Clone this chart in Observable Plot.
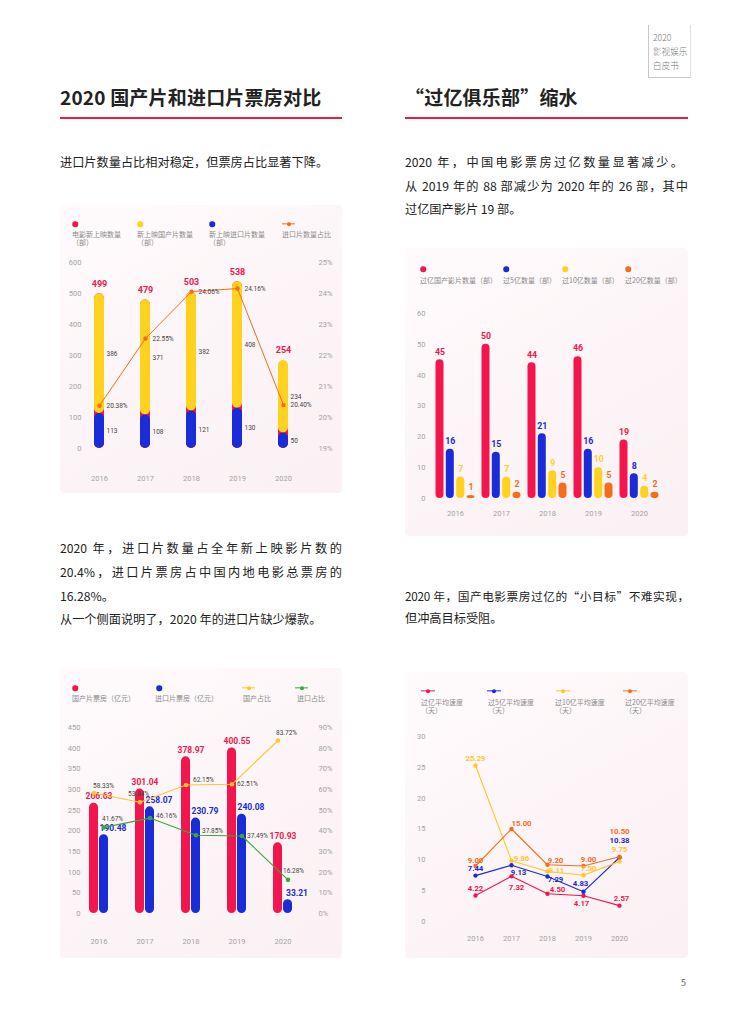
<!DOCTYPE html>
<html><head><meta charset="utf-8">
<script src="https://cdn.jsdelivr.net/npm/d3@7"></script>
<script src="https://cdn.jsdelivr.net/npm/@observablehq/plot@0.6"></script>
<style>
html,body{margin:0;padding:0;background:#fff;}
body{width:749px;height:1024px;position:relative;overflow:hidden;font-family:"Noto Sans CJK SC","Noto Sans",sans-serif;color:#222;}
.abs{position:absolute;}
.title{font-size:19px;font-weight:700;line-height:24px;white-space:nowrap;letter-spacing:0.2px;}
.rule{height:1.5px;background:#e8203a;}
.p{font-size:12.2px;line-height:23.5px;white-space:nowrap;}
.j{text-align:justify;text-align-last:justify;white-space:normal;}
.card{background:linear-gradient(150deg,#fffbfc 0%,#fcf4f6 55%,#fbf1f4 100%);border-radius:4px;}
.lg{position:absolute;font-size:7px;color:#8a8a8a;line-height:7.5px;white-space:pre;}
.dot{position:absolute;width:5.5px;height:5.5px;border-radius:50%;transform:translate(-50%,-50%);}
.lm{position:absolute;height:1.3px;transform:translateY(-50%);}
.lm i{position:absolute;left:50%;top:50%;width:4px;height:4px;border-radius:50%;transform:translate(-50%,-50%);}
.plot{position:absolute;}
.plot svg{overflow:visible;}
</style></head>
<body>
<script>
// ---------- shared ----------
const years = ["2016","2017","2018","2019","2020"];

// ---------- chart 1: 新上映影片数量 ----------
const newTotal    = [499, 479, 503, 538, 254];
const newDomestic = [386, 371, 382, 408, 234];
const newImported = [113, 108, 121, 130, 50];
const importedCountShare = [20.38, 22.55, 24.06, 24.16, 20.40];
const c1Legend = ["电影新上映数量\n（部）", "新上映国产片数量\n（部）", "新上映进口片数量\n（部）", "进口片数量占比"];
const c1LeftTicks  = [0, 100, 200, 300, 400, 500, 600];
const c1RightTicks = [19, 20, 21, 22, 23, 24, 25];

// ---------- chart 2: 过亿俱乐部 ----------
const over100m = [45, 50, 44, 46, 19];
const over500m = [16, 15, 21, 16, 8];
const over1b   = [7, 7, 9, 10, 4];
const over2b   = [1, 2, 5, 5, 2];
const c2Legend = ["过亿国产影片数量（部）", "过5亿数量（部）", "过10亿数量（部）", "过20亿数量（部）"];
const c2Ticks  = [0, 10, 20, 30, 40, 50, 60];

// ---------- chart 3: 票房对比 ----------
const domBox   = [266.63, 301.04, 378.97, 400.55, 170.93];
const impBox   = [190.48, 258.07, 230.79, 240.08, 33.21];
const domShare = [58.33, 53.84, 62.15, 62.51, 83.72];
const impShare = [41.67, 46.16, 37.85, 37.49, 16.28];
const c3Legend = ["国产片票房（亿元）", "进口片票房（亿元）", "国产占比", "进口占比"];
const c3LeftTicks  = [0, 50, 100, 150, 200, 250, 300, 350, 400, 450];
const c3RightTicks = [0, 10, 20, 30, 40, 50, 60, 70, 80, 90];

// ---------- chart 4: 过亿速度 ----------
const days100m = [4.22, 7.32, 4.50, 4.17, 2.57];
const days500m = [7.44, 9.13, 7.29, 4.83, 10.38];
const days1b   = [25.29, 9.86, 8.11, 7.50, 9.75];
const days2b   = [9.00, 15.00, 9.20, 9.00, 10.50];
const c4Legend = ["过亿平均速度\n（天）", "过5亿平均速度\n（天）", "过10亿平均速度\n（天）", "过20亿平均速度\n（天）"];
const c4Ticks  = [0, 5, 10, 15, 20, 25, 30];

// ---------- colours ----------
const RED = "#f2164c", BLUE = "#1a2bd8", YEL = "#ffd21f", ORG = "#f36d1d", GRN = "#3aa93c", YEL2 = "#ffc62e";

// ---------- helpers ----------
function el(tag, cls, css, html) {
  const e = document.createElement(tag);
  if (cls) e.className = cls;
  Object.assign(e.style, css || {});
  if (html != null) e.textContent = html;
  document.body.appendChild(e);
  return e;
}
function legendItem(text, textX, textTop, color, markerX, markerY, type, lineW) {
  el("div", "lg", {left: textX + "px", top: textTop + "px"}, text);
  if (type === "dot") {
    el("div", "dot", {left: markerX + "px", top: markerY + "px", background: color});
  } else {
    const m = el("div", "lm", {left: markerX + "px", top: markerY + "px", width: lineW + "px", background: color});
    const i = document.createElement("i"); i.style.background = color; m.appendChild(i);
  }
}
function place(svg, left, top) {
  const d = el("div", "plot", {left: left + "px", top: top + "px"});
  d.appendChild(svg);
}
const axisStyle = {fontSize: "7.5px", fontFamily: "Roboto, 'Noto Sans', sans-serif", color: "#a3a3a3", background: "transparent", overflow: "visible"};
const fmt2 = d3.format(".2f");

// ---------- static page text ----------
el("div", "abs", {left: "648px", top: "25px", width: "41px", height: "52px", borderLeft: "1px solid #c8c8c8", borderRight: "1px solid #e0e0e0", borderBottom: "1px solid #c8c8c8"});
el("div", "abs", {left: "653px", top: "30px", fontSize: "8.6px", lineHeight: "14px", color: "#777", fontWeight: "300", whiteSpace: "pre"}, "2020\n影视娱乐\n白皮书");

el("div", "abs title", {left: "60px", top: "85px"}, "2020 国产片和进口片票房对比");
el("div", "abs rule", {left: "60px", top: "117px", width: "282px"});
el("div", "abs title", {left: "405px", top: "85px"}, "“过亿俱乐部”缩水");
el("div", "abs rule", {left: "405px", top: "117px", width: "283px"});

el("div", "abs p", {left: "60px", top: "151px"}, "进口片数量占比相对稳定，但票房占比显著下降。");
el("div", "abs p j", {left: "405px", top: "151px", width: "278px"}, "2020 年，中国电影票房过亿数量显著减少。");
el("div", "abs p j", {left: "405px", top: "174.5px", width: "283px"}, "从 2019 年的 88 部减少为 2020 年的 26 部，其中");
el("div", "abs p", {left: "405px", top: "198px"}, "过亿国产影片 19 部。");

el("div", "abs p j", {left: "60px", top: "537px", width: "282px"}, "2020 年，进口片数量占全年新上映影片数的");
el("div", "abs p j", {left: "60px", top: "561px", width: "282px"}, "20.4%，进口片票房占中国内地电影总票房的");
el("div", "abs p", {left: "60px", top: "585px"}, "16.28%。");
el("div", "abs p", {left: "60px", top: "608px"}, "从一个侧面说明了，2020 年的进口片缺少爆款。");

el("div", "abs p j", {left: "405px", top: "584px", width: "284px", fontSize: "11.7px", letterSpacing: "-0.2px"}, "2020 年，国产电影票房过亿的“小目标”不难实现，");
el("div", "abs p", {left: "405px", top: "607px"}, "但冲高目标受阻。");

el("div", "abs", {left: "681px", top: "976px", fontSize: "9px", color: "#555"}, "5");

// ---------- cards ----------
el("div", "abs card", {left: "60px", top: "205px", width: "282px", height: "288px"});
el("div", "abs card", {left: "405px", top: "248px", width: "283px", height: "288px"});
el("div", "abs card", {left: "60px", top: "668px", width: "282px", height: "290px"});
el("div", "abs card", {left: "405px", top: "672px", width: "283px", height: "286px"});

// ---------- chart 1 ----------
{
  const c1 = years.map((y, i) => ({year: y, total: newTotal[i], dom: newDomestic[i], imp: newImported[i], share: importedCountShare[i]}));
  const s = v => (v - 19) / 6 * 600;
  const svg = Plot.plot({
    width: 282, height: 238, marginTop: 10, marginBottom: 42, marginLeft: 24, marginRight: 27,
    style: axisStyle,
    x: {type: "band", domain: years, range: [33, 228], paddingInner: 0.7838, paddingOuter: 0, align: 0.5},
    y: {domain: [0, 600]},
    marks: [
      Plot.axisY({anchor: "left", ticks: c1LeftTicks, tickSize: 0, tickPadding: 3, label: null}),
      Plot.axisY({anchor: "right", ticks: c1RightTicks.map(s), tickFormat: d => Math.round(d / 100 + 19) + "%", tickSize: 0, tickPadding: 3, label: null}),
      Plot.axisX({anchor: "bottom", tickSize: 0, tickPadding: 27, label: null}),
      Plot.barY(c1, {x: "year", y1: 0, y2: "total", fill: RED, rx: 5}),
      Plot.barY(c1, {x: "year", y1: "imp", y2: d => d.imp + d.dom, fill: YEL, rx: 5}),
      Plot.barY(c1, {x: "year", y1: 0, y2: "imp", fill: BLUE, rx: 5}),
      Plot.text(c1, {x: "year", y: d => d.imp + d.dom, text: d => String(d.total), dy: -10, fill: RED, fontWeight: "bold", fontSize: 9}),
      Plot.text(c1, {x: "year", y: d => d.imp + d.dom / 2, text: d => String(d.dom), dx: 7, textAnchor: "start", fill: "#444", fontSize: 6.5}),
      Plot.text(c1, {x: "year", y: d => d.imp / 2, text: d => String(d.imp), dx: 7, textAnchor: "start", fill: "#444", fontSize: 6.5}),
      Plot.line(c1, {x: "year", y: d => s(d.share), stroke: ORG, strokeWidth: 1}),
      Plot.dot(c1, {x: "year", y: d => s(d.share), r: 2.2, fill: ORG}),
      Plot.text(c1, {x: "year", y: d => s(d.share), text: d => fmt2(d.share) + "%", dx: 7, textAnchor: "start", fill: "#444", fontSize: 6.5})
    ]
  });
  place(svg, 60, 252);
  const tx = [72, 137, 209, 282], mx = [75, 140, 212, 282];
  const cols = [RED, YEL, BLUE, ORG];
  c1Legend.forEach((t, i) => legendItem(t, tx[i], 231, cols[i], mx[i], 224, i < 3 ? "dot" : "line", 13));
}

// ---------- chart 2 ----------
{
  const series = [
    {vals: over100m, color: RED, dx: -15.5},
    {vals: over500m, color: BLUE, dx: -5.2},
    {vals: over1b, color: YEL, dx: 5.2},
    {vals: over2b, color: ORG, dx: 15.5}
  ];
  const marks = [
    Plot.axisY({anchor: "left", ticks: c2Ticks, tickSize: 0, tickPadding: 3, label: null}),
    Plot.axisX({anchor: "bottom", tickSize: 0, tickPadding: 12, label: null})
  ];
  series.forEach(sr => {
    const data = years.map((y, i) => ({year: y, v: sr.vals[i]}));
    marks.push(Plot.barY(data, {x: "year", y1: 0, y2: "v", fill: sr.color, rx: 4, dx: sr.dx}));
    marks.push(Plot.text(data, {x: "year", y: "v", text: d => String(d.v), dx: sr.dx, dy: -8, fill: sr.color, fontWeight: "bold", fontSize: 8.8}));
  });
  const svg = Plot.plot({
    width: 283, height: 235, marginTop: 18, marginBottom: 32, marginLeft: 23, marginRight: 10,
    style: axisStyle,
    x: {type: "band", domain: years, range: [45, 238], paddingInner: 0.827, paddingOuter: 0, align: 0.5},
    y: {domain: [0, 60]},
    marks
  });
  place(svg, 405, 295);
  const tx = [420, 503, 562, 625], mx = [423, 506, 565, 628];
  const cols = [RED, BLUE, YEL, ORG];
  c2Legend.forEach((t, i) => legendItem(t, tx[i], 277, cols[i], mx[i], 269, "dot"));
}

// ---------- chart 3 ----------
{
  const c3 = years.map((y, i) => ({year: y, dom: domBox[i], imp: impBox[i], ds: domShare[i], is: impShare[i]}));
  const s = v => v * 5;
  // label offsets (px) for the share labels, relative to each point
  const domOff = [[-1,-7],[-12,-8],[7,-5],[5,0],[-2,-8]];
  const impOff = [[-2,-8],[6,-2],[6,-4],[5,0],[-5,-9]];
  const marks = [
    Plot.axisY({anchor: "left", ticks: c3LeftTicks, tickSize: 0, tickPadding: 3, label: null}),
    Plot.axisY({anchor: "right", ticks: c3RightTicks.map(s), tickFormat: d => Math.round(d / 5) + "%", tickSize: 0, tickPadding: 3, label: null}),
    Plot.axisX({anchor: "bottom", tickSize: 0, tickPadding: 25, label: null}),
    Plot.barY(c3, {x: "year", y1: 0, y2: "dom", fill: RED, rx: 4.5, dx: -5}),
    Plot.barY(c3, {x: "year", y1: 0, y2: "imp", fill: BLUE, rx: 4.5, dx: 5}),
    Plot.text(c3, {x: "year", y: "dom", text: d => fmt2(d.dom), dy: -7, fill: RED, fontWeight: "bold", fontSize: 8.5}),
    Plot.text(c3, {x: "year", y: "imp", text: d => fmt2(d.imp), dx: 14, dy: -7, fill: BLUE, fontWeight: "bold", fontSize: 8.5}),
    Plot.line(c3, {x: "year", y: d => s(d.ds), stroke: YEL2, strokeWidth: 1.1, dx: -5}),
    Plot.dot(c3, {x: "year", y: d => s(d.ds), r: 2.3, fill: YEL2, dx: -5}),
    Plot.line(c3, {x: "year", y: d => s(d.is), stroke: GRN, strokeWidth: 1.1, dx: 5}),
    Plot.dot(c3, {x: "year", y: d => s(d.is), r: 2.3, fill: GRN, dx: 5})
  ];
  c3.forEach((d, i) => {
    marks.push(Plot.text([d], {x: "year", y: e => s(e.ds), text: e => fmt2(e.ds) + "%", dx: -5 + domOff[i][0], dy: domOff[i][1], textAnchor: "start", fill: "#444", fontSize: 6.5}));
    marks.push(Plot.text([d], {x: "year", y: e => s(e.is), text: e => fmt2(e.is) + "%", dx: 5 + impOff[i][0], dy: impOff[i][1], textAnchor: "start", fill: "#444", fontSize: 6.5}));
  });
  const svg = Plot.plot({
    width: 282, height: 246, marginTop: 15, marginBottom: 45, marginLeft: 23, marginRight: 27,
    style: axisStyle,
    x: {type: "band", domain: years, range: [33.5, 227.5], paddingInner: 0.806, paddingOuter: 0, align: 0.5},
    y: {domain: [0, 450]},
    marks
  });
  place(svg, 60, 712);
  const tx = [72, 155, 243, 297], mx = [75, 159, 242, 295];
  const cols = [RED, BLUE, YEL2, GRN];
  c3Legend.forEach((t, i) => legendItem(t, tx[i], 695, cols[i], mx[i], 688, i < 2 ? "dot" : "line", 13));
}

// ---------- chart 4 ----------
{
  const series = [
    {vals: days100m, color: RED,  off: [[0,-7],[5,11],[10,-4],[-2,8],[2,-7]]},
    {vals: days500m, color: BLUE, off: [[0,-7],[7,7],[8,3],[-3,-8],[0,-17]]},
    {vals: days1b,   color: YEL2, off: [[0,-7],[10,-2],[9,-1],[5,-7],[0,-12]]},
    {vals: days2b,   color: ORG,  off: [[0,-6],[10,-6],[8,-4],[5,-7],[0,-25]]}
  ];
  const marks = [
    Plot.axisY({anchor: "left", ticks: c4Ticks, tickSize: 0, tickPadding: 3, label: null}),
    Plot.axisX({anchor: "bottom", tickSize: 0, tickPadding: 14, label: null})
  ];
  series.forEach(sr => {
    const data = years.map((y, i) => ({year: y, v: sr.vals[i]}));
    marks.push(Plot.line(data, {x: "year", y: "v", stroke: sr.color, strokeWidth: 1.1}));
    marks.push(Plot.dot(data, {x: "year", y: "v", r: 2.2, fill: sr.color}));
  });
  series.forEach(sr => {
    years.forEach((y, i) => {
      marks.push(Plot.text([{year: y, v: sr.vals[i]}], {x: "year", y: "v", text: d => fmt2(d.v), dx: sr.off[i][0], dy: sr.off[i][1], fill: sr.color, fontWeight: "bold", fontSize: 7.8}));
    });
  });
  const svg = Plot.plot({
    width: 283, height: 234, marginTop: 14, marginBottom: 35, marginLeft: 23, marginRight: 10,
    style: axisStyle,
    x: {type: "point", domain: years, range: [50, 233]},
    y: {domain: [0, 30]},
    marks
  });
  place(svg, 405, 722);
  const tx = [421, 488, 555, 625], mx = [421, 487, 556, 623];
  const cols = [RED, BLUE, YEL2, ORG];
  c4Legend.forEach((t, i) => legendItem(t, tx[i], 699, cols[i], mx[i], 691, "line", 14));
}
</script>
</body></html>
